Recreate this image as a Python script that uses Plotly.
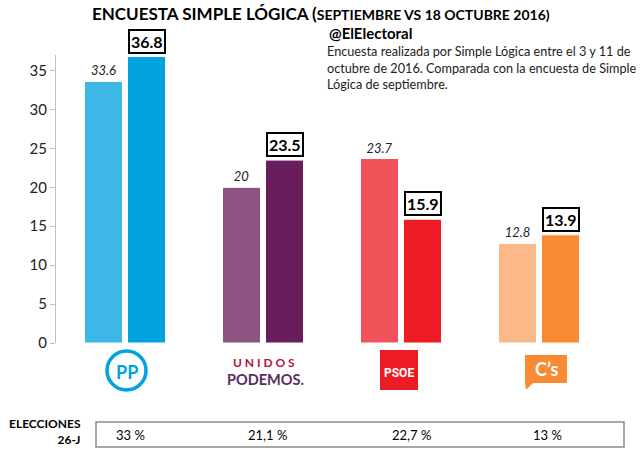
import plotly.graph_objects as go

partidos = ["PP", "Unidos Podemos", "PSOE", "Cs"]
septiembre = [33.6, 20, 23.7, 12.8]
octubre = [36.8, 23.5, 15.9, 13.9]
elecciones_26j = ["33 %", "21,1 %", "22,7 %", "13 %"]

colores_sep = ["#3DB8E6", "#8C5383", "#F2525A", "#FBB98A"]
colores_oct = ["#00A3E0", "#6A1D5C", "#ED1C24", "#F78A33"]

FONT = "Lato"
W, H = 640, 465
L, R, T, B = 56, 32, 55, 122


def px(x):
    # pixel -> paper x
    return (x - L) / (W - L - R)


def py(y):
    # pixel -> paper y
    return (H - B - y) / (H - T - B)


def label(x, y, text, size, color="black", family=FONT, xanchor="center", **kw):
    return dict(x=px(x), y=py(y), xref="paper", yref="paper", showarrow=False,
                xanchor=xanchor, yanchor="middle", text=text,
                font=dict(family=family, size=size, color=color), **kw)


fig = go.Figure()
fig.add_trace(go.Bar(
    x=partidos, y=septiembre, name="Septiembre",
    marker=dict(color=colores_sep, line=dict(color="white", width=1)),
    texttemplate="<i>%{y}</i>", textposition="outside",
    textfont=dict(family=FONT, size=13, color="#222"),
    cliponaxis=False,
))
fig.add_trace(go.Bar(
    x=partidos, y=octubre, name="Octubre",
    marker=dict(color=colores_oct, line=dict(color="white", width=1)),
    cliponaxis=False,
))

ann = []
for p, v in zip(partidos, octubre):
    ann.append(dict(
        x=p, y=v, xref="x", yref="y", xshift=21.5, yshift=3,
        yanchor="bottom", showarrow=False, text="<b>%s</b>" % v,
        font=dict(family=FONT, size=16, color="black"),
        bordercolor="black", borderwidth=2, borderpad=1, bgcolor="white",
    ))

# titulo
ann.append(label(321, 13,
                 "<b>ENCUESTA SIMPLE LÓGICA (<span style='font-size:14px'>SEPTIEMBRE VS 18 OCTUBRE 2016)</span></b>",
                 17))
ann.append(label(327, 33, "<b>@ElElectoral</b>", 15, xanchor="left"))
ann.append(label(325, 68,
                 "Encuesta realizada por Simple Lógica entre el 3 y 11 de<br>"
                 "octubre de 2016. Comparada con la encuesta de Simple<br>"
                 "Lógica de septiembre.",
                 12.7, color="#222", xanchor="left", align="left"))

shapes = []
# logo PP
shapes.append(dict(type="circle", xref="paper", yref="paper",
                   x0=px(107), x1=px(146), y0=py(351), y1=py(390),
                   line=dict(color="#00A3E0", width=3.5)))
ann.append(label(126.5, 372, "<b>PP</b>", 18, color="#00A3E0"))
# logo Unidos Podemos
ann.append(label(264, 362, "<b>U N I D O S</b>", 12, color="#B5123E"))
ann.append(label(265, 379.5, "<b>PODEMOS.</b>", 14.5, color="#5B2D5F"))
# logo PSOE
shapes.append(dict(type="rect", xref="paper", yref="paper",
                   x0=px(380), x1=px(418), y0=py(350), y1=py(390),
                   fillcolor="#ED1C24", line=dict(width=0)))
ann.append(label(399, 373, "<b>PSOE</b>", 12, color="white", family="Roboto"))
# logo Ciudadanos
shapes.append(dict(type="rect", xref="paper", yref="paper",
                   x0=px(525), x1=px(567), y0=py(355), y1=py(383),
                   fillcolor="#F78A33", line=dict(width=0)))
shapes.append(dict(type="path", xref="paper", yref="paper",
                   path="M %f %f L %f %f L %f %f Z" % (px(525), py(382), px(534), py(382), px(526), py(390)),
                   fillcolor="#F78A33", line=dict(width=0)))
ann.append(label(546, 369, "<b>C’s</b>", 18, color="white"))

# tabla elecciones
ann.append(label(83, 431, "<b>ELECCIONES<br>26-J</b>", 12, xanchor="right", align="right"))
shapes.append(dict(type="rect", xref="paper", yref="paper",
                   x0=px(96), x1=px(624), y0=py(422), y1=py(447),
                   line=dict(color="#8C8C8C", width=1.5)))
for xpos, t in zip([130, 267, 411, 547], elecciones_26j):
    ann.append(label(xpos, 435, t, 13))

fig.update_layout(
    width=W, height=H,
    margin=dict(l=L, r=R, t=T, b=B),
    paper_bgcolor="white", plot_bgcolor="white",
    showlegend=False,
    barmode="group", bargap=0.377, bargroupgap=0.116,
    annotations=ann, shapes=shapes,
    font=dict(family=FONT),
)
fig.update_xaxes(showticklabels=False, showline=False, showgrid=False, zeroline=False, ticks="")
fig.update_yaxes(
    range=[0, 37], tickvals=[0, 5, 10, 15, 20, 25, 30, 35],
    showgrid=False, zeroline=False, showline=True, linecolor="#BFBFBF", linewidth=1,
    ticks="outside", ticklen=5, tickcolor="#BFBFBF",
    tickfont=dict(family=FONT, size=15, color="#222"),
)

fig.write_html("out.html", config={"displayModeBar": False},
               post_script="document.body.style.margin='0';")
